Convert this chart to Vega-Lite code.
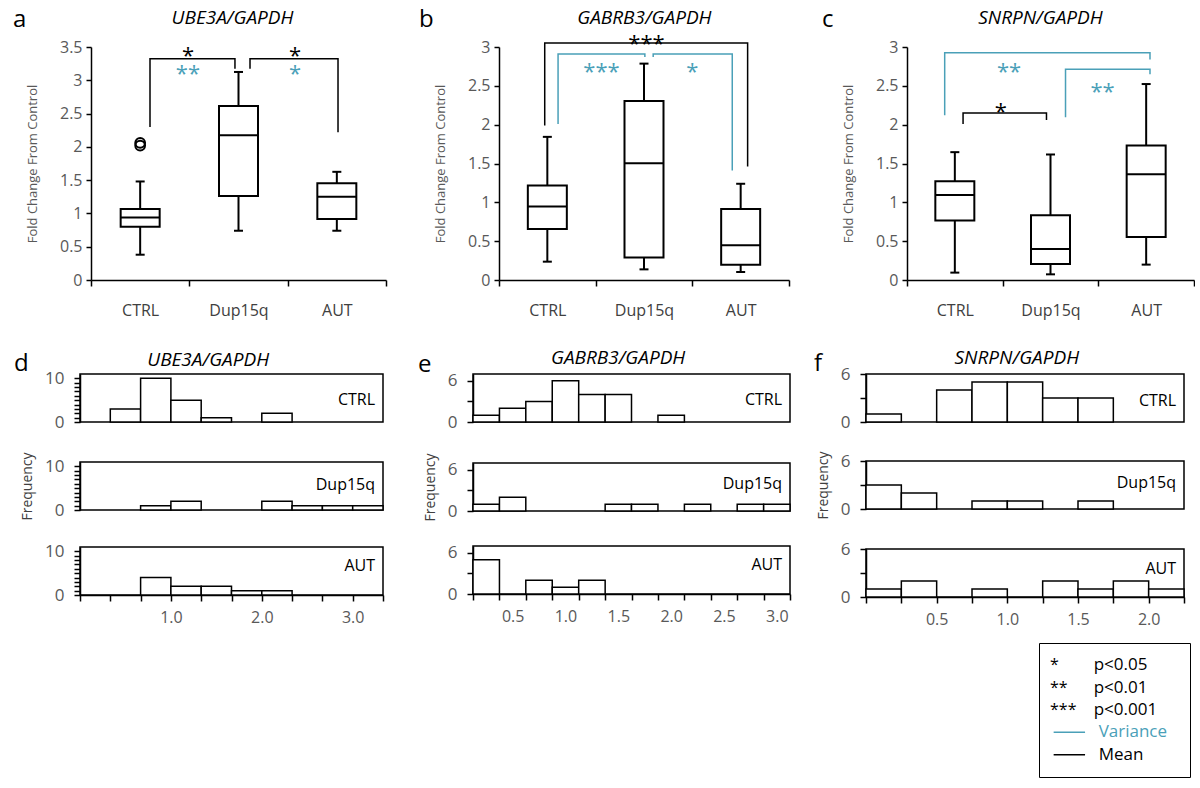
{
"$schema": "https://vega.github.io/schema/vega-lite/v6.json",
"padding": {"left": 12, "top": 8, "right": 0, "bottom": 0},
"background": "white",
"config": {
  "font": "Open Sans",
  "view": {"stroke": null},
  "legend": {"disable": true},
  "axis": {"grid": false, "domainColor": "black", "domainWidth": 1.5, "tickColor": "black", "tickWidth": 1.5, "labelColor": "#595959", "labelFont": "Open Sans", "titleFont": "Open Sans", "titleFontWeight": "normal", "titleColor": "#595959", "labelOverlap": false, "tickCount": 100}
},
"datasets": {
  "boxes": [
    {"panel":"a","group":"CTRL","lower":0.38,"q1":0.80,"median":0.94,"q3":1.065,"upper":1.48},
    {"panel":"a","group":"Dup15q","lower":0.74,"q1":1.26,"median":2.175,"q3":2.615,"upper":3.125},
    {"panel":"a","group":"AUT","lower":0.74,"q1":0.915,"median":1.25,"q3":1.455,"upper":1.625},
    {"panel":"b","group":"CTRL","lower":0.236,"q1":0.656,"median":0.947,"q3":1.217,"upper":1.843},
    {"panel":"b","group":"Dup15q","lower":0.137,"q1":0.291,"median":1.504,"q3":2.306,"upper":2.786},
    {"panel":"b","group":"AUT","lower":0.103,"q1":0.197,"median":0.446,"q3":0.913,"upper":1.239},
    {"panel":"c","group":"CTRL","lower":0.095,"q1":0.765,"median":1.096,"q3":1.272,"upper":1.646},
    {"panel":"c","group":"Dup15q","lower":0.073,"q1":0.206,"median":0.40,"q3":0.834,"upper":1.616},
    {"panel":"c","group":"AUT","lower":0.198,"q1":0.554,"median":1.362,"q3":1.732,"upper":2.523}
  ],
  "outliers": [
    {"panel":"a","group":"CTRL","value":2.02},
    {"panel":"a","group":"CTRL","value":2.06}
  ],
  "brackets": [
    {"panel":"a","id":"a1","type":"Mean","i":1,"x":1.10,"y":2.30},
    {"panel":"a","id":"a1","type":"Mean","i":2,"x":1.10,"y":3.325},
    {"panel":"a","id":"a1","type":"Mean","i":3,"x":1.964,"y":3.325},
    {"panel":"a","id":"a1","type":"Mean","i":4,"x":1.964,"y":3.175},
    {"panel":"a","id":"a2","type":"Mean","i":1,"x":2.117,"y":3.175},
    {"panel":"a","id":"a2","type":"Mean","i":2,"x":2.117,"y":3.325},
    {"panel":"a","id":"a2","type":"Mean","i":3,"x":3.012,"y":3.325},
    {"panel":"a","id":"a2","type":"Mean","i":4,"x":3.012,"y":2.22},
    {"panel":"b","id":"b1","type":"Mean","i":1,"x":0.973,"y":1.99},
    {"panel":"b","id":"b1","type":"Mean","i":2,"x":0.973,"y":3.05},
    {"panel":"b","id":"b1","type":"Mean","i":3,"x":3.072,"y":3.05},
    {"panel":"b","id":"b1","type":"Mean","i":4,"x":3.072,"y":1.46},
    {"panel":"b","id":"b2","type":"Variance","i":1,"x":1.111,"y":2.01},
    {"panel":"b","id":"b2","type":"Variance","i":2,"x":1.111,"y":2.91},
    {"panel":"b","id":"b2","type":"Variance","i":3,"x":2.009,"y":2.91},
    {"panel":"b","id":"b2","type":"Variance","i":4,"x":2.009,"y":2.87},
    {"panel":"b","id":"b3","type":"Variance","i":1,"x":2.095,"y":2.87},
    {"panel":"b","id":"b3","type":"Variance","i":2,"x":2.095,"y":2.91},
    {"panel":"b","id":"b3","type":"Variance","i":3,"x":2.913,"y":2.91},
    {"panel":"b","id":"b3","type":"Variance","i":4,"x":2.913,"y":1.41},
    {"panel":"c","id":"c1","type":"Variance","i":1,"x":0.894,"y":2.12},
    {"panel":"c","id":"c1","type":"Variance","i":2,"x":0.894,"y":2.925},
    {"panel":"c","id":"c1","type":"Variance","i":3,"x":3.04,"y":2.925},
    {"panel":"c","id":"c1","type":"Variance","i":4,"x":3.04,"y":2.84},
    {"panel":"c","id":"c2","type":"Variance","i":1,"x":2.157,"y":2.094},
    {"panel":"c","id":"c2","type":"Variance","i":2,"x":2.157,"y":2.715},
    {"panel":"c","id":"c2","type":"Variance","i":3,"x":3.04,"y":2.715},
    {"panel":"c","id":"c2","type":"Variance","i":4,"x":3.04,"y":2.65},
    {"panel":"c","id":"c3","type":"Mean","i":1,"x":1.086,"y":2.01},
    {"panel":"c","id":"c3","type":"Mean","i":2,"x":1.086,"y":2.15},
    {"panel":"c","id":"c3","type":"Mean","i":3,"x":1.958,"y":2.15},
    {"panel":"c","id":"c3","type":"Mean","i":4,"x":1.958,"y":2.06}
  ],
  "stars": [
    {"panel":"a","text":"*","type":"Mean","x":1.486,"y":3.45},
    {"panel":"a","text":"**","type":"Variance","x":1.486,"y":3.18},
    {"panel":"a","text":"*","type":"Mean","x":2.575,"y":3.45},
    {"panel":"a","text":"*","type":"Variance","x":2.575,"y":3.18},
    {"panel":"b","text":"***","type":"Mean","x":2.026,"y":3.12},
    {"panel":"b","text":"***","type":"Variance","x":1.56,"y":2.76},
    {"panel":"b","text":"*","type":"Variance","x":2.5,"y":2.76},
    {"panel":"c","text":"**","type":"Variance","x":1.567,"y":2.76},
    {"panel":"c","text":"**","type":"Variance","x":2.544,"y":2.50},
    {"panel":"c","text":"*","type":"Mean","x":1.48,"y":2.24}
  ],
  "labels": [
    {"panel":"a","letter":"a","gene":"UBE3A/GAPDH"},
    {"panel":"b","letter":"b","gene":"GABRB3/GAPDH"},
    {"panel":"c","letter":"c","gene":"SNRPN/GAPDH"},
    {"panel":"d","letter":"d","gene":"UBE3A/GAPDH"},
    {"panel":"e","letter":"e","gene":"GABRB3/GAPDH"},
    {"panel":"f","letter":"f","gene":"SNRPN/GAPDH"}
  ],
  "groups": [{"group":"CTRL"},{"group":"Dup15q"},{"group":"AUT"}],
  "hist": [
    {"gene":"UBE3A","group":"CTRL","start":0.33333,"end":0.66667,"count":3},
    {"gene":"UBE3A","group":"CTRL","start":0.66667,"end":1,"count":10},
    {"gene":"UBE3A","group":"CTRL","start":1,"end":1.33333,"count":5},
    {"gene":"UBE3A","group":"CTRL","start":1.33333,"end":1.66667,"count":1},
    {"gene":"UBE3A","group":"CTRL","start":2,"end":2.33333,"count":2},
    {"gene":"UBE3A","group":"Dup15q","start":0.66667,"end":1,"count":1},
    {"gene":"UBE3A","group":"Dup15q","start":1,"end":1.33333,"count":2},
    {"gene":"UBE3A","group":"Dup15q","start":2,"end":2.33333,"count":2},
    {"gene":"UBE3A","group":"Dup15q","start":2.33333,"end":2.66667,"count":1},
    {"gene":"UBE3A","group":"Dup15q","start":2.66667,"end":3,"count":1},
    {"gene":"UBE3A","group":"Dup15q","start":3,"end":3.33333,"count":1},
    {"gene":"UBE3A","group":"AUT","start":0.66667,"end":1,"count":4},
    {"gene":"UBE3A","group":"AUT","start":1,"end":1.33333,"count":2},
    {"gene":"UBE3A","group":"AUT","start":1.33333,"end":1.66667,"count":2},
    {"gene":"UBE3A","group":"AUT","start":1.66667,"end":2,"count":1},
    {"gene":"UBE3A","group":"AUT","start":2,"end":2.33333,"count":1},
    {"gene":"GABRB3","group":"CTRL","start":0.133,"end":0.380,"count":1},
    {"gene":"GABRB3","group":"CTRL","start":0.380,"end":0.626,"count":2},
    {"gene":"GABRB3","group":"CTRL","start":0.626,"end":0.873,"count":3},
    {"gene":"GABRB3","group":"CTRL","start":0.873,"end":1.120,"count":6},
    {"gene":"GABRB3","group":"CTRL","start":1.120,"end":1.367,"count":4},
    {"gene":"GABRB3","group":"CTRL","start":1.367,"end":1.613,"count":4},
    {"gene":"GABRB3","group":"CTRL","start":1.860,"end":2.107,"count":1},
    {"gene":"GABRB3","group":"Dup15q","start":0.133,"end":0.380,"count":1},
    {"gene":"GABRB3","group":"Dup15q","start":0.380,"end":0.626,"count":2},
    {"gene":"GABRB3","group":"Dup15q","start":1.367,"end":1.613,"count":1},
    {"gene":"GABRB3","group":"Dup15q","start":1.613,"end":1.860,"count":1},
    {"gene":"GABRB3","group":"Dup15q","start":2.107,"end":2.353,"count":1},
    {"gene":"GABRB3","group":"Dup15q","start":2.600,"end":2.847,"count":1},
    {"gene":"GABRB3","group":"Dup15q","start":2.847,"end":3.093,"count":1},
    {"gene":"GABRB3","group":"AUT","start":0.133,"end":0.380,"count":5},
    {"gene":"GABRB3","group":"AUT","start":0.626,"end":0.873,"count":2},
    {"gene":"GABRB3","group":"AUT","start":0.873,"end":1.120,"count":1},
    {"gene":"GABRB3","group":"AUT","start":1.120,"end":1.367,"count":2},
    {"gene":"SNRPN","group":"CTRL","start":0,"end":0.25,"count":1},
    {"gene":"SNRPN","group":"CTRL","start":0.5,"end":0.75,"count":4},
    {"gene":"SNRPN","group":"CTRL","start":0.75,"end":1,"count":5},
    {"gene":"SNRPN","group":"CTRL","start":1,"end":1.25,"count":5},
    {"gene":"SNRPN","group":"CTRL","start":1.25,"end":1.5,"count":3},
    {"gene":"SNRPN","group":"CTRL","start":1.5,"end":1.75,"count":3},
    {"gene":"SNRPN","group":"Dup15q","start":0,"end":0.25,"count":3},
    {"gene":"SNRPN","group":"Dup15q","start":0.25,"end":0.5,"count":2},
    {"gene":"SNRPN","group":"Dup15q","start":0.75,"end":1,"count":1},
    {"gene":"SNRPN","group":"Dup15q","start":1,"end":1.25,"count":1},
    {"gene":"SNRPN","group":"Dup15q","start":1.5,"end":1.75,"count":1},
    {"gene":"SNRPN","group":"AUT","start":0,"end":0.25,"count":1},
    {"gene":"SNRPN","group":"AUT","start":0.25,"end":0.5,"count":2},
    {"gene":"SNRPN","group":"AUT","start":0.75,"end":1,"count":1},
    {"gene":"SNRPN","group":"AUT","start":1.25,"end":1.5,"count":2},
    {"gene":"SNRPN","group":"AUT","start":1.5,"end":1.75,"count":1},
    {"gene":"SNRPN","group":"AUT","start":1.75,"end":2,"count":2},
    {"gene":"SNRPN","group":"AUT","start":2,"end":2.25,"count":1}
  ],
  "legend": [
    {"order":1,"sym":"*","label":"p<0.05","kind":"Mean"},
    {"order":2,"sym":"**","label":"p<0.01","kind":"Mean"},
    {"order":3,"sym":"***","label":"p<0.001","kind":"Mean"},
    {"order":4,"sym":"","label":"Variance","kind":"Variance"},
    {"order":5,"sym":"","label":"Mean","kind":"Mean"}
  ]
},
"vconcat": [
  {"hconcat": [
    {"width": 1, "height": 1, "data": {"values": []}, "mark": "point", "encoding": {}},
    {"hconcat": [
      {"width": 295, "height": 233,
       "data": {"name": "boxes"},
       "transform": [{"filter": "datum.panel == 'a'"}, {"calculate": "indexof(['CTRL','Dup15q','AUT'], datum.group) + 1", "as": "pos"}],
       "layer": [
         {"mark": {"type": "rule", "color": "black", "strokeWidth": 2},
          "encoding": {
            "x": {"field": "pos", "type": "quantitative", "scale": {"domain": [0.5, 3.5], "nice": false, "zero": false, "padding": 0},
                  "axis": {"values": [0.5,1,1.5,2,2.5,3,3.5], "tickCount": 100, "labelExpr": "datum.value == 1 ? 'CTRL' : datum.value == 2 ? 'Dup15q' : datum.value == 3 ? 'AUT' : ''", "tickOpacity": {"condition": {"test": "datum.value % 1 == 0", "value": 0}, "value": 1}, "tickSize": 6, "labelPadding": 16, "labelFontSize": 16, "labelColor": "#404040", "title": null, "labelOverlap": false, "labelBound": false, "labelFlush": false}},
            "y": {"field": "lower", "type": "quantitative", "scale": {"domain": [0, 3.5], "nice": false, "padding": 0},
                  "axis": {"values": [0,0.5,1,1.5,2,2.5,3,3.5], "tickCount": 100, "format": ".2~f", "title": "Fold Change From Control", "titleFontSize": 13, "titlePadding": 20, "labelFontSize": 16, "labelPadding": 4, "tickSize": 5, "labelOverlap": false}},
            "y2": {"field": "upper"}}},
         {"mark": {"type": "tick", "orient": "horizontal", "size": 9, "thickness": 2, "color": "black", "opacity": 1},
          "encoding": {"x": {"field": "pos", "type": "quantitative"}, "y": {"field": "lower", "type": "quantitative"}}},
         {"mark": {"type": "tick", "orient": "horizontal", "size": 9, "thickness": 2, "color": "black", "opacity": 1},
          "encoding": {"x": {"field": "pos", "type": "quantitative"}, "y": {"field": "upper", "type": "quantitative"}}},
         {"mark": {"type": "bar", "size": 39, "fill": "white", "stroke": "black", "strokeWidth": 2, "opacity": 1},
          "encoding": {"x": {"field": "pos", "type": "quantitative"}, "y": {"field": "q1", "type": "quantitative"}, "y2": {"field": "q3"}}},
         {"mark": {"type": "tick", "orient": "horizontal", "size": 39, "thickness": 2, "color": "black", "opacity": 1},
          "encoding": {"x": {"field": "pos", "type": "quantitative"}, "y": {"field": "median", "type": "quantitative"}}},
         {"data": {"name": "outliers"},
          "transform": [{"filter": "datum.panel == 'a'"}, {"calculate": "indexof(['CTRL','Dup15q','AUT'], datum.group) + 1", "as": "pos"}],
          "mark": {"type": "point", "shape": "circle", "size": 95, "filled": false, "stroke": "black", "strokeWidth": 2, "opacity": 1},
          "encoding": {"x": {"field": "pos", "type": "quantitative"}, "y": {"field": "value", "type": "quantitative"}}},
         {"data": {"name": "brackets"}, "transform": [{"filter": "datum.panel == 'a'"}],
          "mark": {"type": "line", "strokeWidth": 1.5},
          "encoding": {"x": {"field": "x", "type": "quantitative"}, "y": {"field": "y", "type": "quantitative"}, "detail": {"field": "id"}, "order": {"field": "i", "type": "quantitative"},
                       "color": {"field": "type", "type": "nominal", "scale": {"domain": ["Mean","Variance"], "range": ["black","#4aa0b8"]}, "legend": null}}},
         {"data": {"name": "stars"}, "transform": [{"filter": "datum.panel == 'a'"}],
          "mark": {"type": "text", "fontSize": 22, "align": "center", "baseline": "alphabetic", "dy": 13},
          "encoding": {"x": {"field": "x", "type": "quantitative"}, "y": {"field": "y", "type": "quantitative"}, "text": {"field": "text"},
                       "color": {"field": "type", "type": "nominal", "scale": {"domain": ["Mean","Variance"], "range": ["black","#4aa0b8"]}, "legend": null}}},
         {"data": {"name": "labels"}, "transform": [{"filter": "datum.panel == 'a'"}],
          "mark": {"type": "text", "fontSize": 24, "align": "left", "baseline": "alphabetic", "color": "black"},
          "encoding": {"x": {"datum": -0.2922, "type": "quantitative"}, "y": {"datum": 3.796, "type": "quantitative"}, "text": {"field": "letter"}}},
         {"data": {"name": "labels"}, "transform": [{"filter": "datum.panel == 'a'"}],
          "mark": {"type": "text", "fontSize": 19, "fontStyle": "italic", "align": "center", "baseline": "alphabetic", "color": "black"},
          "encoding": {"x": {"datum": 1.939, "type": "quantitative"}, "y": {"datum": 3.851, "type": "quantitative"}, "text": {"field": "gene"}}}
       ]},
      {"width": 290, "height": 233,
       "data": {"name": "boxes"},
       "transform": [{"filter": "datum.panel == 'b'"}, {"calculate": "indexof(['CTRL','Dup15q','AUT'], datum.group) + 1", "as": "pos"}],
       "layer": [
         {"mark": {"type": "rule", "color": "black", "strokeWidth": 2},
          "encoding": {
            "x": {"field": "pos", "type": "quantitative", "scale": {"domain": [0.5, 3.5], "nice": false, "zero": false, "padding": 0},
                  "axis": {"values": [0.5,1,1.5,2,2.5,3,3.5], "tickCount": 100, "labelExpr": "datum.value == 1 ? 'CTRL' : datum.value == 2 ? 'Dup15q' : datum.value == 3 ? 'AUT' : ''", "tickOpacity": {"condition": {"test": "datum.value % 1 == 0", "value": 0}, "value": 1}, "tickSize": 6, "labelPadding": 16, "labelFontSize": 16, "labelColor": "#404040", "title": null, "labelOverlap": false, "labelBound": false, "labelFlush": false}},
            "y": {"field": "lower", "type": "quantitative", "scale": {"domain": [0, 3], "nice": false, "padding": 0},
                  "axis": {"values": [0,0.5,1,1.5,2,2.5,3], "tickCount": 100, "format": ".2~f", "title": "Fold Change From Control", "titleFontSize": 13, "titlePadding": 20, "labelFontSize": 16, "labelPadding": 4, "tickSize": 5, "labelOverlap": false}},
            "y2": {"field": "upper"}}},
         {"mark": {"type": "tick", "orient": "horizontal", "size": 9, "thickness": 2, "color": "black", "opacity": 1},
          "encoding": {"x": {"field": "pos", "type": "quantitative"}, "y": {"field": "lower", "type": "quantitative"}}},
         {"mark": {"type": "tick", "orient": "horizontal", "size": 9, "thickness": 2, "color": "black", "opacity": 1},
          "encoding": {"x": {"field": "pos", "type": "quantitative"}, "y": {"field": "upper", "type": "quantitative"}}},
         {"mark": {"type": "bar", "size": 39, "fill": "white", "stroke": "black", "strokeWidth": 2, "opacity": 1},
          "encoding": {"x": {"field": "pos", "type": "quantitative"}, "y": {"field": "q1", "type": "quantitative"}, "y2": {"field": "q3"}}},
         {"mark": {"type": "tick", "orient": "horizontal", "size": 39, "thickness": 2, "color": "black", "opacity": 1},
          "encoding": {"x": {"field": "pos", "type": "quantitative"}, "y": {"field": "median", "type": "quantitative"}}},
         {"data": {"name": "brackets"}, "transform": [{"filter": "datum.panel == 'b'"}],
          "mark": {"type": "line", "strokeWidth": 1.5},
          "encoding": {"x": {"field": "x", "type": "quantitative"}, "y": {"field": "y", "type": "quantitative"}, "detail": {"field": "id"}, "order": {"field": "i", "type": "quantitative"},
                       "color": {"field": "type", "type": "nominal", "scale": {"domain": ["Mean","Variance"], "range": ["black","#4aa0b8"]}, "legend": null}}},
         {"data": {"name": "stars"}, "transform": [{"filter": "datum.panel == 'b'"}],
          "mark": {"type": "text", "fontSize": 22, "align": "center", "baseline": "alphabetic", "dy": 13},
          "encoding": {"x": {"field": "x", "type": "quantitative"}, "y": {"field": "y", "type": "quantitative"}, "text": {"field": "text"},
                       "color": {"field": "type", "type": "nominal", "scale": {"domain": ["Mean","Variance"], "range": ["black","#4aa0b8"]}, "legend": null}}},
         {"data": {"name": "labels"}, "transform": [{"filter": "datum.panel == 'b'"}],
          "mark": {"type": "text", "fontSize": 24, "align": "left", "baseline": "alphabetic", "color": "black"},
          "encoding": {"x": {"datum": -0.3266, "type": "quantitative"}, "y": {"datum": 3.254, "type": "quantitative"}, "text": {"field": "letter"}}},
         {"data": {"name": "labels"}, "transform": [{"filter": "datum.panel == 'b'"}],
          "mark": {"type": "text", "fontSize": 19, "fontStyle": "italic", "align": "center", "baseline": "alphabetic", "color": "black"},
          "encoding": {"x": {"datum": 2.004, "type": "quantitative"}, "y": {"datum": 3.301, "type": "quantitative"}, "text": {"field": "gene"}}}
       ]},
      {"width": 287, "height": 233,
       "data": {"name": "boxes"},
       "transform": [{"filter": "datum.panel == 'c'"}, {"calculate": "indexof(['CTRL','Dup15q','AUT'], datum.group) + 1", "as": "pos"}],
       "layer": [
         {"mark": {"type": "rule", "color": "black", "strokeWidth": 2},
          "encoding": {
            "x": {"field": "pos", "type": "quantitative", "scale": {"domain": [0.5, 3.5], "nice": false, "zero": false, "padding": 0},
                  "axis": {"values": [0.5,1,1.5,2,2.5,3,3.5], "tickCount": 100, "labelExpr": "datum.value == 1 ? 'CTRL' : datum.value == 2 ? 'Dup15q' : datum.value == 3 ? 'AUT' : ''", "tickOpacity": {"condition": {"test": "datum.value % 1 == 0", "value": 0}, "value": 1}, "tickSize": 6, "labelPadding": 16, "labelFontSize": 16, "labelColor": "#404040", "title": null, "labelOverlap": false, "labelBound": false, "labelFlush": false}},
            "y": {"field": "lower", "type": "quantitative", "scale": {"domain": [0, 3], "nice": false, "padding": 0},
                  "axis": {"values": [0,0.5,1,1.5,2,2.5,3], "tickCount": 100, "format": ".2~f", "title": "Fold Change From Control", "titleFontSize": 13, "titlePadding": 20, "labelFontSize": 16, "labelPadding": 4, "tickSize": 5, "labelOverlap": false}},
            "y2": {"field": "upper"}}},
         {"mark": {"type": "tick", "orient": "horizontal", "size": 9, "thickness": 2, "color": "black", "opacity": 1},
          "encoding": {"x": {"field": "pos", "type": "quantitative"}, "y": {"field": "lower", "type": "quantitative"}}},
         {"mark": {"type": "tick", "orient": "horizontal", "size": 9, "thickness": 2, "color": "black", "opacity": 1},
          "encoding": {"x": {"field": "pos", "type": "quantitative"}, "y": {"field": "upper", "type": "quantitative"}}},
         {"mark": {"type": "bar", "size": 39, "fill": "white", "stroke": "black", "strokeWidth": 2, "opacity": 1},
          "encoding": {"x": {"field": "pos", "type": "quantitative"}, "y": {"field": "q1", "type": "quantitative"}, "y2": {"field": "q3"}}},
         {"mark": {"type": "tick", "orient": "horizontal", "size": 39, "thickness": 2, "color": "black", "opacity": 1},
          "encoding": {"x": {"field": "pos", "type": "quantitative"}, "y": {"field": "median", "type": "quantitative"}}},
         {"data": {"name": "brackets"}, "transform": [{"filter": "datum.panel == 'c'"}],
          "mark": {"type": "line", "strokeWidth": 1.5},
          "encoding": {"x": {"field": "x", "type": "quantitative"}, "y": {"field": "y", "type": "quantitative"}, "detail": {"field": "id"}, "order": {"field": "i", "type": "quantitative"},
                       "color": {"field": "type", "type": "nominal", "scale": {"domain": ["Mean","Variance"], "range": ["black","#4aa0b8"]}, "legend": null}}},
         {"data": {"name": "stars"}, "transform": [{"filter": "datum.panel == 'c'"}],
          "mark": {"type": "text", "fontSize": 22, "align": "center", "baseline": "alphabetic", "dy": 13},
          "encoding": {"x": {"field": "x", "type": "quantitative"}, "y": {"field": "y", "type": "quantitative"}, "text": {"field": "text"},
                       "color": {"field": "type", "type": "nominal", "scale": {"domain": ["Mean","Variance"], "range": ["black","#4aa0b8"]}, "legend": null}}},
         {"data": {"name": "labels"}, "transform": [{"filter": "datum.panel == 'c'"}],
          "mark": {"type": "text", "fontSize": 24, "align": "left", "baseline": "alphabetic", "color": "black"},
          "encoding": {"x": {"datum": -0.3875, "type": "quantitative"}, "y": {"datum": 3.254, "type": "quantitative"}, "text": {"field": "letter"}}},
         {"data": {"name": "labels"}, "transform": [{"filter": "datum.panel == 'c'"}],
          "mark": {"type": "text", "fontSize": 19, "fontStyle": "italic", "align": "center", "baseline": "alphabetic", "color": "black"},
          "encoding": {"x": {"datum": 1.895, "type": "quantitative"}, "y": {"datum": 3.292, "type": "quantitative"}, "text": {"field": "gene"}}}
       ]}
    ], "spacing": 32, "align": "none"}
  ], "spacing": 0, "align": "none"},
  {"hconcat": [
    {"width": 1, "height": 1, "data": {"values": []}, "mark": "point", "encoding": {}},
    {"hconcat": [
      {"hconcat": [
        {"vconcat": [
          {"width": 303, "height": 48, "view": {"stroke": "black", "strokeWidth": 1.5},
           "layer": [
             {"data": {"name": "hist"}, "transform": [{"filter": "datum.gene == 'UBE3A' && datum.group == 'CTRL'"}],
              "mark": {"type": "rect", "fill": "white", "stroke": "black", "strokeWidth": 1.5},
              "encoding": {"x": {"field": "start", "type": "quantitative", "scale": {"domain": [0, 3.33333], "nice": false, "zero": false}, "axis": null},
                           "x2": {"field": "end"},
                           "y": {"field": "count", "type": "quantitative", "scale": {"domain": [0, 11], "nice": false},
                                 "axis": {"values": [0,1,2,3,4,5,6,7,8,9,10], "tickCount": 100, "labelExpr": "datum.value == 0 || datum.value == 10 ? format(datum.value, 'd') : ''", "title": null, "labelFontSize": 17, "labelPadding": 10, "tickSize": 6, "labelOverlap": false, "labelBound": false}},
                           "y2": {"datum": 0}}},
             {"data": {"name": "groups"}, "transform": [{"filter": "datum.group == 'CTRL'"}],
              "mark": {"type": "text", "align": "right", "baseline": "middle", "fontSize": 16, "color": "black", "dx": -8},
              "encoding": {"x": {"datum": 3.33333, "type": "quantitative"}, "y": {"datum": 4.97, "type": "quantitative"}, "text": {"field": "group"}}},
             {"data": {"name": "labels"}, "transform": [{"filter": "datum.panel == 'd'"}],
              "mark": {"type": "text", "fontSize": 24, "align": "left", "baseline": "alphabetic", "color": "black"},
              "encoding": {"x": {"datum": -0.725, "type": "quantitative"}, "y": {"datum": 11.69, "type": "quantitative"}, "text": {"field": "letter"}}},
             {"data": {"name": "labels"}, "transform": [{"filter": "datum.panel == 'd'"}],
              "mark": {"type": "text", "fontSize": 19, "fontStyle": "italic", "align": "center", "baseline": "alphabetic", "color": "black"},
              "encoding": {"x": {"datum": 1.41, "type": "quantitative"}, "y": {"datum": 12.83, "type": "quantitative"}, "text": {"field": "gene"}}}
           ]},
          {"width": 303, "height": 48, "view": {"stroke": "black", "strokeWidth": 1.5},
           "layer": [
             {"data": {"name": "hist"}, "transform": [{"filter": "datum.gene == 'UBE3A' && datum.group == 'Dup15q'"}],
              "mark": {"type": "rect", "fill": "white", "stroke": "black", "strokeWidth": 1.5},
              "encoding": {"x": {"field": "start", "type": "quantitative", "scale": {"domain": [0, 3.33333], "nice": false, "zero": false}, "axis": null},
                           "x2": {"field": "end"},
                           "y": {"field": "count", "type": "quantitative", "scale": {"domain": [0, 11], "nice": false},
                                 "axis": {"values": [0,1,2,3,4,5,6,7,8,9,10], "tickCount": 100, "labelExpr": "datum.value == 0 || datum.value == 10 ? format(datum.value, 'd') : ''", "title": "Frequency", "titleFontSize": 14, "titleColor": "#404040", "titlePadding": 10, "labelFontSize": 17, "labelPadding": 10, "tickSize": 6, "labelOverlap": false, "labelBound": false}},
                           "y2": {"datum": 0}}},
             {"data": {"name": "groups"}, "transform": [{"filter": "datum.group == 'Dup15q'"}],
              "mark": {"type": "text", "align": "right", "baseline": "middle", "fontSize": 16, "color": "black", "dx": -8},
              "encoding": {"x": {"datum": 3.33333, "type": "quantitative"}, "y": {"datum": 5.79, "type": "quantitative"}, "text": {"field": "group"}}}
           ]},
          {"width": 303, "height": 48, "view": {"stroke": "black", "strokeWidth": 1.5},
           "layer": [
             {"data": {"name": "hist"}, "transform": [{"filter": "datum.gene == 'UBE3A' && datum.group == 'AUT'"}],
              "mark": {"type": "rect", "fill": "white", "stroke": "black", "strokeWidth": 1.5},
              "encoding": {"x": {"field": "start", "type": "quantitative", "scale": {"domain": [0, 3.33333], "nice": false, "zero": false},
                                 "axis": {"values": [0,0.33333,0.66667,1,1.33333,1.66667,2,2.33333,2.66667,3,3.33333], "tickCount": 100, "labelExpr": "datum.value == 1 || datum.value == 2 || datum.value == 3 ? format(datum.value, '.1f') : ''", "title": null, "labelFontSize": 16, "labelPadding": 8, "tickSize": 6, "labelOverlap": false, "labelBound": false, "labelFlush": false}},
                           "x2": {"field": "end"},
                           "y": {"field": "count", "type": "quantitative", "scale": {"domain": [0, 11], "nice": false},
                                 "axis": {"values": [0,1,2,3,4,5,6,7,8,9,10], "tickCount": 100, "labelExpr": "datum.value == 0 || datum.value == 10 ? format(datum.value, 'd') : ''", "title": null, "labelFontSize": 17, "labelPadding": 10, "tickSize": 6, "labelOverlap": false, "labelBound": false}},
                           "y2": {"datum": 0}}},
             {"data": {"name": "groups"}, "transform": [{"filter": "datum.group == 'AUT'"}],
              "mark": {"type": "text", "align": "right", "baseline": "middle", "fontSize": 16, "color": "black", "dx": -8},
              "encoding": {"x": {"datum": 3.33333, "type": "quantitative"}, "y": {"datum": 6.6, "type": "quantitative"}, "text": {"field": "group"}}}
           ]}
        ], "spacing": 20, "align": "none"},
        {"vconcat": [
          {"width": 317, "height": 48, "view": {"stroke": "black", "strokeWidth": 1.5},
           "layer": [
             {"data": {"name": "hist"}, "transform": [{"filter": "datum.gene == 'GABRB3' && datum.group == 'CTRL'"}],
              "mark": {"type": "rect", "fill": "white", "stroke": "black", "strokeWidth": 1.5},
              "encoding": {"x": {"field": "start", "type": "quantitative", "scale": {"domain": [0.133, 3.093], "nice": false, "zero": false}, "axis": null},
                           "x2": {"field": "end"},
                           "y": {"field": "count", "type": "quantitative", "scale": {"domain": [0, 7], "nice": false},
                                 "axis": {"values": [0,3,6], "tickCount": 100, "labelExpr": "datum.value == 0 || datum.value == 6 ? format(datum.value, 'd') : ''", "title": null, "labelFontSize": 17, "labelPadding": 10, "tickSize": 6, "labelOverlap": false, "labelBound": false}},
                           "y2": {"datum": 0}}},
             {"data": {"name": "groups"}, "transform": [{"filter": "datum.group == 'CTRL'"}],
              "mark": {"type": "text", "align": "right", "baseline": "middle", "fontSize": 16, "color": "black", "dx": -8},
              "encoding": {"x": {"datum": 3.093, "type": "quantitative"}, "y": {"datum": 3.17, "type": "quantitative"}, "text": {"field": "group"}}},
             {"data": {"name": "labels"}, "transform": [{"filter": "datum.panel == 'e'"}],
              "mark": {"type": "text", "fontSize": 24, "align": "left", "baseline": "alphabetic", "color": "black"},
              "encoding": {"x": {"datum": -0.3796, "type": "quantitative"}, "y": {"datum": 7.29, "type": "quantitative"}, "text": {"field": "letter"}}},
             {"data": {"name": "labels"}, "transform": [{"filter": "datum.panel == 'e'"}],
              "mark": {"type": "text", "fontSize": 19, "fontStyle": "italic", "align": "center", "baseline": "alphabetic", "color": "black"},
              "encoding": {"x": {"datum": 1.488, "type": "quantitative"}, "y": {"datum": 8.41, "type": "quantitative"}, "text": {"field": "gene"}}}
           ]},
          {"width": 317, "height": 48, "view": {"stroke": "black", "strokeWidth": 1.5},
           "layer": [
             {"data": {"name": "hist"}, "transform": [{"filter": "datum.gene == 'GABRB3' && datum.group == 'Dup15q'"}],
              "mark": {"type": "rect", "fill": "white", "stroke": "black", "strokeWidth": 1.5},
              "encoding": {"x": {"field": "start", "type": "quantitative", "scale": {"domain": [0.133, 3.093], "nice": false, "zero": false}, "axis": null},
                           "x2": {"field": "end"},
                           "y": {"field": "count", "type": "quantitative", "scale": {"domain": [0, 7], "nice": false},
                                 "axis": {"values": [0,3,6], "tickCount": 100, "labelExpr": "datum.value == 0 || datum.value == 6 ? format(datum.value, 'd') : ''", "title": "Frequency", "titleFontSize": 14, "titleColor": "#404040", "titlePadding": 10, "labelFontSize": 17, "labelPadding": 10, "tickSize": 6, "labelOverlap": false, "labelBound": false}},
                           "y2": {"datum": 0}}},
             {"data": {"name": "groups"}, "transform": [{"filter": "datum.group == 'Dup15q'"}],
              "mark": {"type": "text", "align": "right", "baseline": "middle", "fontSize": 16, "color": "black", "dx": -8},
              "encoding": {"x": {"datum": 3.093, "type": "quantitative"}, "y": {"datum": 3.9, "type": "quantitative"}, "text": {"field": "group"}}}
           ]},
          {"width": 317, "height": 48, "view": {"stroke": "black", "strokeWidth": 1.5},
           "layer": [
             {"data": {"name": "hist"}, "transform": [{"filter": "datum.gene == 'GABRB3' && datum.group == 'AUT'"}],
              "mark": {"type": "rect", "fill": "white", "stroke": "black", "strokeWidth": 1.5},
              "encoding": {"x": {"field": "start", "type": "quantitative", "scale": {"domain": [0.133, 3.093], "nice": false, "zero": false},
                                 "axis": {"values": [0.133,0.380,0.626,0.873,1.120,1.367,1.613,1.860,2.107,2.353,2.600,2.847,3.093,0.503,0.9965,1.49,1.9835,2.4765,2.97], "tickCount": 100, "labelExpr": "indexof([0.503,0.9965,1.49,1.9835,2.4765,2.97], datum.value) >= 0 ? format(round(datum.value * 2) / 2, '.1f') : ''", "tickOpacity": {"condition": {"test": "indexof([0.503,0.9965,1.49,1.9835,2.4765,2.97], datum.value) >= 0", "value": 0}, "value": 1}, "title": null, "labelFontSize": 16, "labelPadding": 8, "tickSize": 6, "labelOverlap": false, "labelBound": false, "labelFlush": false}},
                           "x2": {"field": "end"},
                           "y": {"field": "count", "type": "quantitative", "scale": {"domain": [0, 7], "nice": false},
                                 "axis": {"values": [0,3,6], "tickCount": 100, "labelExpr": "datum.value == 0 || datum.value == 6 ? format(datum.value, 'd') : ''", "title": null, "labelFontSize": 17, "labelPadding": 10, "tickSize": 6, "labelOverlap": false, "labelBound": false}},
                           "y2": {"datum": 0}}},
             {"data": {"name": "groups"}, "transform": [{"filter": "datum.group == 'AUT'"}],
              "mark": {"type": "text", "align": "right", "baseline": "middle", "fontSize": 16, "color": "black", "dx": -8},
              "encoding": {"x": {"datum": 3.093, "type": "quantitative"}, "y": {"datum": 4.2, "type": "quantitative"}, "text": {"field": "group"}}}
           ]}
        ], "spacing": 21, "align": "none"}
      ], "spacing": 32, "align": "none"},
      {"vconcat": [
        {"vconcat": [
          {"width": 318, "height": 48, "view": {"stroke": "black", "strokeWidth": 1.5},
           "layer": [
             {"data": {"name": "hist"}, "transform": [{"filter": "datum.gene == 'SNRPN' && datum.group == 'CTRL'"}],
              "mark": {"type": "rect", "fill": "white", "stroke": "black", "strokeWidth": 1.5},
              "encoding": {"x": {"field": "start", "type": "quantitative", "scale": {"domain": [0, 2.25], "nice": false, "zero": false}, "axis": null},
                           "x2": {"field": "end"},
                           "y": {"field": "count", "type": "quantitative", "scale": {"domain": [0, 6], "nice": false},
                                 "axis": {"values": [0,3,6], "tickCount": 100, "labelExpr": "datum.value == 0 || datum.value == 6 ? format(datum.value, 'd') : ''", "title": null, "labelFontSize": 17, "labelPadding": 10, "tickSize": 6, "labelOverlap": false, "labelBound": false}},
                           "y2": {"datum": 0}}},
             {"data": {"name": "groups"}, "transform": [{"filter": "datum.group == 'CTRL'"}],
              "mark": {"type": "text", "align": "right", "baseline": "middle", "fontSize": 16, "color": "black", "dx": -8},
              "encoding": {"x": {"datum": 2.25, "type": "quantitative"}, "y": {"datum": 2.65, "type": "quantitative"}, "text": {"field": "group"}}},
             {"data": {"name": "labels"}, "transform": [{"filter": "datum.panel == 'f'"}],
              "mark": {"type": "text", "fontSize": 24, "align": "left", "baseline": "alphabetic", "color": "black"},
              "encoding": {"x": {"datum": -0.3672, "type": "quantitative"}, "y": {"datum": 6.375, "type": "quantitative"}, "text": {"field": "letter"}}},
             {"data": {"name": "labels"}, "transform": [{"filter": "datum.panel == 'f'"}],
              "mark": {"type": "text", "fontSize": 19, "fontStyle": "italic", "align": "center", "baseline": "alphabetic", "color": "black"},
              "encoding": {"x": {"datum": 1.067, "type": "quantitative"}, "y": {"datum": 7.21, "type": "quantitative"}, "text": {"field": "gene"}}}
           ]},
          {"width": 318, "height": 48, "view": {"stroke": "black", "strokeWidth": 1.5},
           "layer": [
             {"data": {"name": "hist"}, "transform": [{"filter": "datum.gene == 'SNRPN' && datum.group == 'Dup15q'"}],
              "mark": {"type": "rect", "fill": "white", "stroke": "black", "strokeWidth": 1.5},
              "encoding": {"x": {"field": "start", "type": "quantitative", "scale": {"domain": [0, 2.25], "nice": false, "zero": false}, "axis": null},
                           "x2": {"field": "end"},
                           "y": {"field": "count", "type": "quantitative", "scale": {"domain": [0, 6], "nice": false},
                                 "axis": {"values": [0,3,6], "tickCount": 100, "labelExpr": "datum.value == 0 || datum.value == 6 ? format(datum.value, 'd') : ''", "title": "Frequency", "titleFontSize": 14, "titleColor": "#404040", "titlePadding": 10, "labelFontSize": 17, "labelPadding": 10, "tickSize": 6, "labelOverlap": false, "labelBound": false}},
                           "y2": {"datum": 0}}},
             {"data": {"name": "groups"}, "transform": [{"filter": "datum.group == 'Dup15q'"}],
              "mark": {"type": "text", "align": "right", "baseline": "middle", "fontSize": 16, "color": "black", "dx": -8},
              "encoding": {"x": {"datum": 2.25, "type": "quantitative"}, "y": {"datum": 3.3, "type": "quantitative"}, "text": {"field": "group"}}}
           ]},
          {"width": 318, "height": 48, "view": {"stroke": "black", "strokeWidth": 1.5},
           "layer": [
             {"data": {"name": "hist"}, "transform": [{"filter": "datum.gene == 'SNRPN' && datum.group == 'AUT'"}],
              "mark": {"type": "rect", "fill": "white", "stroke": "black", "strokeWidth": 1.5},
              "encoding": {"x": {"field": "start", "type": "quantitative", "scale": {"domain": [0, 2.25], "nice": false, "zero": false},
                                 "axis": {"values": [0,0.25,0.5,0.75,1,1.25,1.5,1.75,2,2.25], "tickCount": 100, "labelExpr": "datum.value > 0 && datum.value % 0.5 == 0 ? format(datum.value, '.1f') : ''", "title": null, "labelFontSize": 16, "labelPadding": 8, "tickSize": 6, "labelOverlap": false, "labelBound": false, "labelFlush": false}},
                           "x2": {"field": "end"},
                           "y": {"field": "count", "type": "quantitative", "scale": {"domain": [0, 6], "nice": false},
                                 "axis": {"values": [0,3,6], "tickCount": 100, "labelExpr": "datum.value == 0 || datum.value == 6 ? format(datum.value, 'd') : ''", "title": null, "labelFontSize": 17, "labelPadding": 10, "tickSize": 6, "labelOverlap": false, "labelBound": false}},
                           "y2": {"datum": 0}}},
             {"data": {"name": "groups"}, "transform": [{"filter": "datum.group == 'AUT'"}],
              "mark": {"type": "text", "align": "right", "baseline": "middle", "fontSize": 16, "color": "black", "dx": -8},
              "encoding": {"x": {"datum": 2.25, "type": "quantitative"}, "y": {"datum": 3.47, "type": "quantitative"}, "text": {"field": "group"}}}
           ]}
        ], "spacing": 19, "align": "none"},
        {"hconcat": [
          {"width": 172, "height": 1, "data": {"values": []}, "mark": "point", "encoding": {}},
          {"width": 151, "height": 134, "view": {"stroke": "black", "strokeWidth": 1},
           "data": {"name": "legend"},
           "layer": [
             {"transform": [{"filter": "datum.sym != ''"}],
              "mark": {"type": "text", "align": "left", "baseline": "middle", "fontSize": 16, "color": "black"},
              "encoding": {"x": {"datum": 0.073, "type": "quantitative", "scale": {"domain": [0, 1], "nice": false, "zero": false}, "axis": null},
                           "y": {"field": "order", "type": "quantitative", "scale": {"domain": [0, 6], "reverse": true, "nice": false}, "axis": null},
                           "text": {"field": "sym"}}},
             {"transform": [{"filter": "datum.sym != ''"}],
              "mark": {"type": "text", "align": "left", "baseline": "middle", "fontSize": 17},
              "encoding": {"x": {"datum": 0.362, "type": "quantitative"}, "y": {"field": "order", "type": "quantitative"}, "text": {"field": "label"},
                           "color": {"field": "kind", "type": "nominal", "scale": {"domain": ["Mean","Variance"], "range": ["black","#4aa0b8"]}, "legend": null}}},
             {"transform": [{"filter": "datum.sym == ''"}],
              "mark": {"type": "text", "align": "left", "baseline": "middle", "fontSize": 17},
              "encoding": {"x": {"datum": 0.395, "type": "quantitative"}, "y": {"field": "order", "type": "quantitative"}, "text": {"field": "label"},
                           "color": {"field": "kind", "type": "nominal", "scale": {"domain": ["Mean","Variance"], "range": ["black","#4aa0b8"]}, "legend": null}}},
             {"transform": [{"filter": "datum.sym == ''"}],
              "mark": {"type": "rule", "strokeWidth": 1.5},
              "encoding": {"x": {"datum": 0.097, "type": "quantitative"}, "x2": {"datum": 0.305}, "y": {"field": "order", "type": "quantitative"},
                           "color": {"field": "kind", "type": "nominal", "scale": {"domain": ["Mean","Variance"], "range": ["black","#4aa0b8"]}, "legend": null}}}
           ]}
        ], "spacing": 0, "align": "none"}
      ], "spacing": 14, "align": "none"}
    ], "spacing": 21, "align": "none"}
  ], "spacing": 0, "align": "none"}
],
"spacing": 30,
"align": "none"
}
